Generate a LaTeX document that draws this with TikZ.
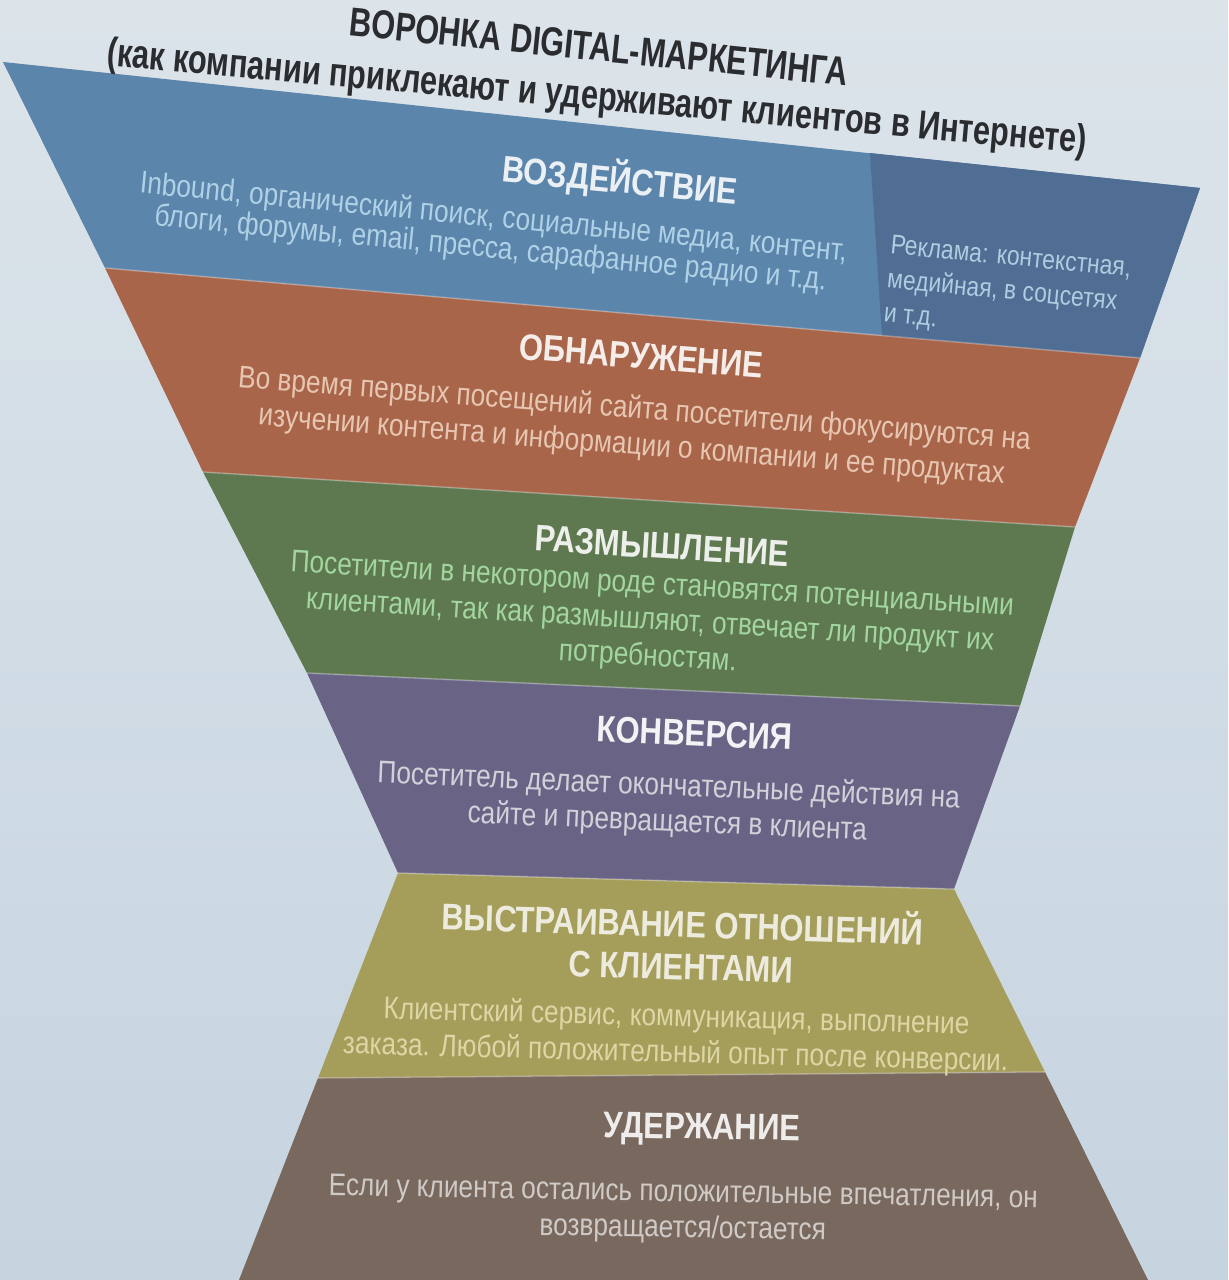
\documentclass[tikz,border=0pt]{standalone}
\usepackage{fontspec}
\setmainfont{Liberation Sans}[FakeStretch=0.84]
\newfontfamily\titlefont{Liberation Sans}[FakeStretch=0.76]
\definecolor{screentop}{HTML}{DCE4EA}
\definecolor{screenbot}{HTML}{C6D4E0}
\definecolor{titleink}{HTML}{2A2C2F}
\definecolor{impactfill}{HTML}{5C85AC}
\definecolor{adsfill}{HTML}{506D93}
\definecolor{discoverfill}{HTML}{A8654A}
\definecolor{thinkfill}{HTML}{5E784F}
\definecolor{convertfill}{HTML}{696485}
\definecolor{relatefill}{HTML}{A59D5A}
\definecolor{keepfill}{HTML}{78685E}
\usetikzlibrary{calc}

\begin{document}
\begin{tikzpicture}[
  x=0.02cm,
  y=-0.02cm,
  band/.style={draw=none},
  seam/.style={draw=white,draw opacity=0.28,line width=0.9pt},
  heading/.style={font=\fontsize{21}{24}\selectfont\bfseries,align=center,inner sep=0pt},
  bodytext/.style={font=\fontsize{17.8}{20.5}\selectfont,align=center,inner sep=0pt},
  sidetext/.style={font=\fontsize{15.5}{19.5}\selectfont,align=left,inner sep=0pt},
  titletext/.style={font=\titlefont\fontsize{23}{26}\selectfont\bfseries,text=titleink,inner sep=0pt}
]
  \useasboundingbox (0,0) rectangle (1228,1280);
  \shade[top color=screentop,bottom color=screenbot] (0,0) rectangle (1228,1280);

  % funnel outline, left and right edges (pixels of the photo)
  \coordinate (L0) at (3,62);
  \coordinate (L1) at (105,268);
  \coordinate (L2) at (203,472);
  \coordinate (L3) at (307,673);
  \coordinate (L4) at (398,873);
  \coordinate (L5) at (318,1078);
  \coordinate (L6) at (239,1280);
  \coordinate (R0) at (1200,188);
  \coordinate (R1) at (1140,358);
  \coordinate (R2) at (1075,527);
  \coordinate (R3) at (1020,706);
  \coordinate (R4) at (954,889);
  \coordinate (R5) at (1045,1072);
  \coordinate (R6) at (1148,1280);
  \coordinate (A0) at (870,153);
  \coordinate (A1) at (882,336);

  \path[band,fill=impactfill] (L0) -- (R0) -- (R1) -- (L1) -- cycle;
  \path[band,fill=adsfill] (A0) -- (R0) -- (R1) -- (A1) -- cycle;
  \path[band,fill=discoverfill] (L1) -- (R1) -- (R2) -- (L2) -- cycle;
  \path[band,fill=thinkfill] (L2) -- (R2) -- (R3) -- (L3) -- cycle;
  \path[band,fill=convertfill] (L3) -- (R3) -- (R4) -- (L4) -- cycle;
  \path[band,fill=relatefill] (L4) -- (R4) -- (R5) -- (L5) -- cycle;
  \path[band,fill=keepfill] (L5) -- (R5) -- (R6) -- (L6) -- cycle;

  \draw[seam] (L1) -- (R1);
  \draw[seam] (L2) -- (R2);
  \draw[seam] (L3) -- (R3);
  \draw[seam] (L4) -- (R4);
  \draw[seam] (L5) -- (R5);

  \node[titletext,rotate=-5.8] (title) at (599,47) {ВОРОНКА DIGITAL-МАРКЕТИНГА};
  \node[titletext,rotate=-5.1] (subtitle) at (597,99)
    {(как компании приклекают и удерживают клиентов в Интернете)};

  \node[heading,text=white!88!impactfill,rotate=-5.5] (impact) at (620,180) {ВОЗДЕЙСТВИЕ};
  \node[bodytext,font=\fontsize{17.8}{17.5}\selectfont,text=cyan!25!white!75!impactfill,rotate=-5.5]
    (impacttext) at (492,234)
    {Inbound, органический поиск, социальные медиа, контент,\\
     блоги, форумы, email, пресса, сарафанное радио и т.д.};
  \node[sidetext,anchor=west,text=cyan!25!white!75!adsfill,rotate=-5.5] (adstext) at (887,281)
    {Реклама: контекстная,\\медийная, в соцсетях\\и т.д.};

  \node[heading,text=white!88!discoverfill,rotate=-4.5] (discover) at (641,356) {ОБНАРУЖЕНИЕ};
  \node[bodytext,text=orange!15!white!72!discoverfill,rotate=-4.5] (discovertext) at (633,428)
    {Во время первых посещений сайта посетители фокусируются на\\
     изучении контента и информации о компании и ее продуктах};

  \node[heading,text=white!88!thinkfill,rotate=-3.5] (think) at (662,546) {РАЗМЫШЛЕНИЕ};
  \node[bodytext,text=green!25!white!70!thinkfill,rotate=-3.5] (thinktext) at (650,622)
    {Посетители в некотором роде становятся потенциальными\\
     клиентами, так как размышляют, отвечает ли продукт их\\
     потребностям.};

  \node[heading,text=white!92!convertfill,rotate=-2.5] (convert) at (695,733) {КОНВЕРСИЯ};
  \node[bodytext,text=white!70!convertfill,rotate=-2.5] (converttext) at (668,805)
    {Посетитель делает окончательные действия на\\
     сайте и превращается в клиента};

  \node[heading,text=white!80!relatefill,rotate=-1.8] (relate) at (682,942)
    {ВЫСТРАИВАНИЕ ОТНОШЕНИЙ\\С КЛИЕНТАМИ};
  \node[bodytext,text=yellow!20!white!55!relatefill,rotate=-1.5] (relatetext) at (676,1036)
    {Клиентский сервис, коммуникация, выполнение\\
     заказа. Любой положительный опыт после конверсии.};

  \node[heading,text=white!88!keepfill,rotate=-1] (keep) at (702,1130) {УДЕРЖАНИЕ};
  \node[bodytext,text=white!65!keepfill,rotate=-1] (keeptext) at (683,1212)
    {Если у клиента остались положительные впечатления, он\\
     возвращается/остается};
\end{tikzpicture}
\end{document}
